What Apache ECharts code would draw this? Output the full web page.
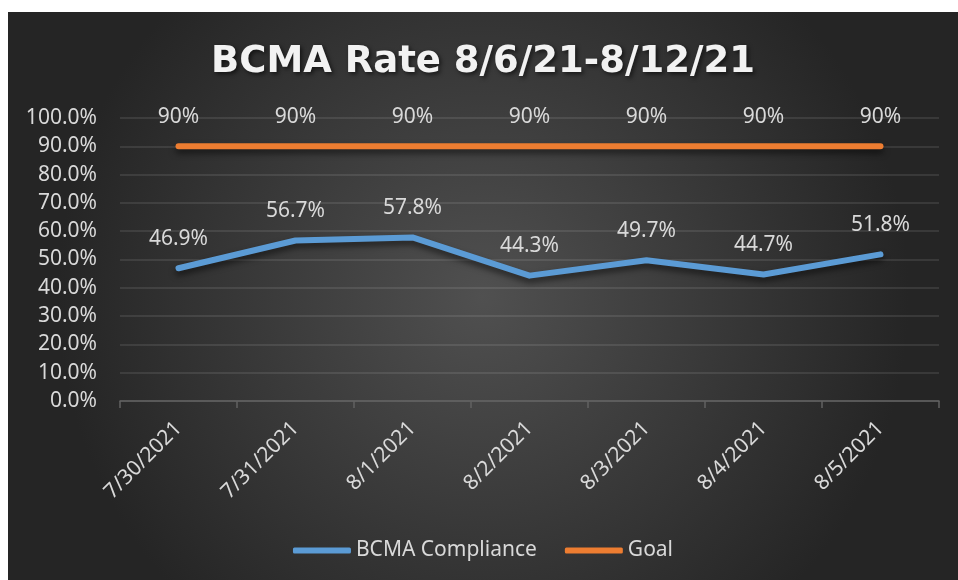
<!DOCTYPE html>
<html>
<head>
<meta charset="utf-8">
<script src="https://cdn.jsdelivr.net/npm/echarts@6/dist/echarts.min.js"></script>
<style>
  html, body { margin: 0; padding: 0; background: #fff; }
  #mychart { position: absolute; left: 8px; top: 12px; width: 950px; height: 568px; }
</style>
</head>
<body>
<div id="mychart"></div>
<script>
"use strict";
const dates = ['7/30/2021', '7/31/2021', '8/1/2021', '8/2/2021', '8/3/2021', '8/4/2021', '8/5/2021'];
const compliance = [46.9, 56.7, 57.8, 44.3, 49.7, 44.7, 51.8];
const goal = [90, 90, 90, 90, 90, 90, 90];

const textColor = '#d9d9d9';
const font = 'Noto Sans';
const container = document.getElementById('mychart');
const myChart = echarts.init(container);

function lineSeries(name, data, color, fmt) {
    return {
        name: name,
        type: 'line',
        data: data,
        symbol: 'circle',
        symbolSize: 0,
        showSymbol: true,
        itemStyle: { color: color },
        lineStyle: {
            width: 6,
            color: color,
            cap: 'round',
            join: 'round',
            shadowColor: 'rgba(0,0,0,0.55)',
            shadowBlur: 6,
            shadowOffsetY: 4
        },
        label: {
            show: true,
            position: 'top',
            distance: 19,
            color: textColor,
            fontFamily: font,
            fontSize: 21,
            formatter: fmt
        },
        emphasis: { disabled: true },
        animation: false
    };
}

const option = {
    backgroundColor: {
        type: 'radial',
        x: 0.5, y: 0.5, r: 0.75,
        colorStops: [
            { offset: 0, color: '#505050' },
            { offset: 1, color: '#252525' }
        ]
    },
    title: {
        text: 'BCMA Rate 8/6/21-8/12/21',
        left: 'center',
        top: 27,
        textStyle: {
            color: '#f2f2f2',
            fontFamily: 'DejaVu Sans',
            fontWeight: 'bold',
            fontSize: 37,
            textShadowColor: 'rgba(0,0,0,0.6)',
            textShadowBlur: 4,
            textShadowOffsetX: 2,
            textShadowOffsetY: 2
        }
    },
    legend: {
        bottom: 14,
        left: 'center',
        itemWidth: 58,
        itemHeight: 6,
        itemGap: 28,
        icon: 'roundRect',
        textStyle: { color: textColor, fontFamily: font, fontSize: 21 },
        data: ['BCMA Compliance', 'Goal']
    },
    grid: { left: 112, right: 19, top: 106, bottom: 179, containLabel: false },
    xAxis: {
        type: 'category',
        data: dates,
        boundaryGap: true,
        axisLine: { lineStyle: { color: '#626262', width: 1.5 } },
        axisTick: { show: true, length: 7, lineStyle: { color: '#626262', width: 1.5 } },
        axisLabel: {
            rotate: 45,
            margin: 24,
            color: textColor,
            fontFamily: font,
            fontSize: 21,
            interval: 0
        }
    },
    yAxis: {
        type: 'value',
        min: 0,
        max: 100,
        interval: 10,
        axisLine: { show: false },
        axisTick: { show: false },
        splitLine: { lineStyle: { color: 'rgba(255,255,255,0.13)', width: 1.5 } },
        axisLabel: {
            margin: 23,
            color: textColor,
            fontFamily: font,
            fontSize: 21,
            formatter: v => v.toFixed(1) + '%'
        }
    },
    series: [
        lineSeries('BCMA Compliance', compliance, '#5b9bd5', p => p.value.toFixed(1) + '%'),
        lineSeries('Goal', goal, '#ed7d31', p => p.value + '%')
    ]
};
myChart.setOption(option);
</script>
</body>
</html>
